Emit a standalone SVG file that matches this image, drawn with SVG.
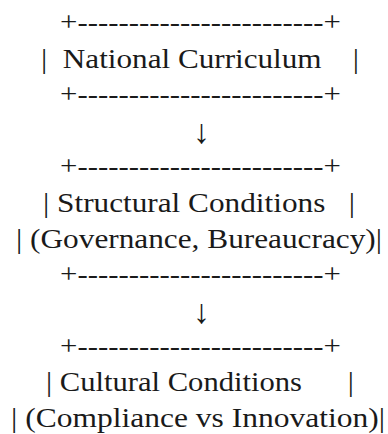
<svg xmlns="http://www.w3.org/2000/svg" width="388" height="434" viewBox="0 0 388 434">
<style>
text{font-family:"Liberation Serif","Times New Roman",serif;font-size:28px;fill:#1a1a1a;white-space:pre;text-anchor:middle}
.arr{font-size:34px}
</style>
<rect width="388" height="434" fill="#fff"/>
<g id="node-national">
<text x="200.5" y="31" textLength="281" lengthAdjust="spacingAndGlyphs">+------------------------+</text>
<text x="200" y="68" textLength="318" lengthAdjust="spacingAndGlyphs">|  National Curriculum    |</text>
<text x="200.5" y="103" textLength="281" lengthAdjust="spacingAndGlyphs">+------------------------+</text>
</g>
<g id="connectors">
<text class="arr" x="201.5" y="143">↓</text>
<text class="arr" x="201.5" y="323">↓</text>
</g>
<g id="node-structural">
<text x="200.5" y="175" textLength="281" lengthAdjust="spacingAndGlyphs">+------------------------+</text>
<text x="199" y="212" textLength="312" lengthAdjust="spacingAndGlyphs">| Structural Conditions   |</text>
<text x="199" y="248" textLength="366" lengthAdjust="spacingAndGlyphs">| (Governance, Bureaucracy)|</text>
<text x="200.5" y="283" textLength="281" lengthAdjust="spacingAndGlyphs">+------------------------+</text>
</g>
<g id="node-cultural">
<text x="200.5" y="355" textLength="281" lengthAdjust="spacingAndGlyphs">+------------------------+</text>
<text x="200" y="391" textLength="308" lengthAdjust="spacingAndGlyphs">| Cultural Conditions      |</text>
<text x="198" y="427" textLength="374" lengthAdjust="spacingAndGlyphs">| (Compliance vs Innovation)|</text>
</g>
</svg>
